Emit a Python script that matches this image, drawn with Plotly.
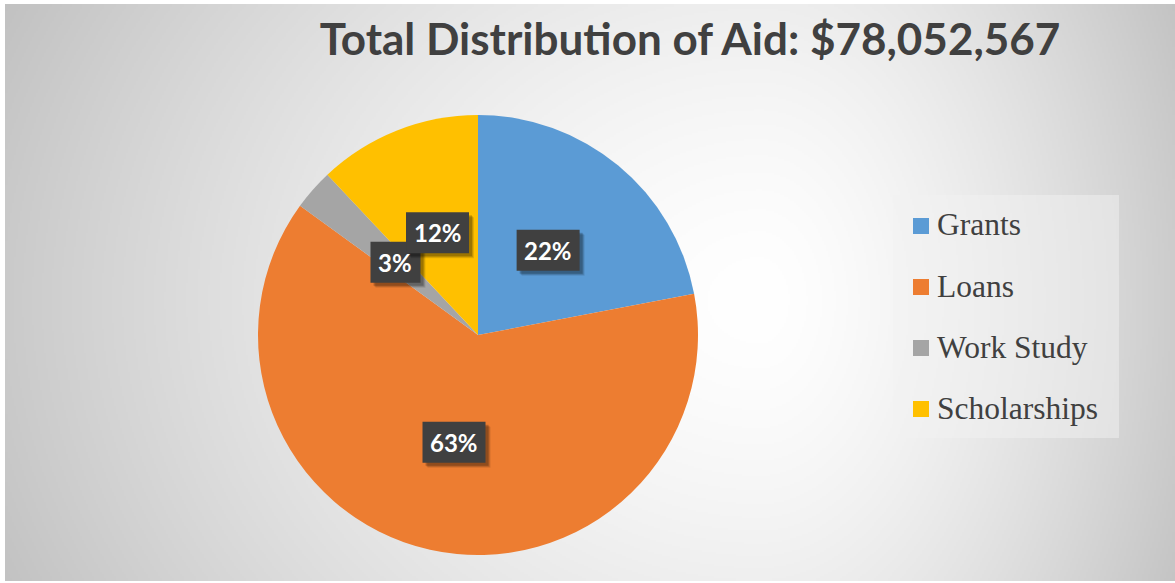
import zlib, struct, base64
import numpy as np
import plotly.graph_objects as go

# ---- data ----
categories = ["Grants", "Loans", "Work Study", "Scholarships"]
percent_values = [22, 63, 3, 12]
total_aid = 78052567
colors = ["#5B9BD5", "#ED7D31", "#A5A5A5", "#FFC000"]

W, H = 1175, 583

# ---- background gradient image (styling only) ----
def png_gray(arr):
    h, w = arr.shape
    raw = b"".join(b"\x00" + arr[i].tobytes() for i in range(h))
    def chunk(t, d):
        c = struct.pack(">I", len(d)) + t + d
        return c + struct.pack(">I", zlib.crc32(t + d) & 0xffffffff)
    return (b"\x89PNG\r\n\x1a\n"
            + chunk(b"IHDR", struct.pack(">IIBBBBB", w, h, 8, 0, 0, 0, 0))
            + chunk(b"IDAT", zlib.compress(raw, 9))
            + chunk(b"IEND", b""))

gw, gh = 585, 289
gx0, gy0, gx1, gy1 = 5, 4, 1175, 581
xs = gx0 + (np.arange(gw) + 0.5) * (gx1 - gx0) / gw
ys = gy0 + (np.arange(gh) + 0.5) * (gy1 - gy0) / gh
X, Y = np.meshgrid(xs, ys)
cxg, cyg = 760.0, 300.0
ax = np.where(X < cxg, 850.0, 480.0)
ay = 700.0
t = np.sqrt(((X - cxg) / ax) ** 2 + ((Y - cyg) / ay) ** 2)
t = np.clip(t, 0, 1) ** 1.5
g = (255 - 63 * t).astype(np.uint8)
bg_uri = "data:image/png;base64," + base64.b64encode(png_gray(g)).decode()

# ---- pie geometry ----
pcx, pcy, R = 478, 335, 220
dom_x = [(pcx - R) / W, (pcx + R) / W]
dom_y = [(H - pcy - R) / H, (H - pcy + R) / H]

fig = go.Figure()
fig.add_trace(go.Pie(
    labels=categories,
    values=percent_values,
    marker=dict(colors=colors, line=dict(width=0)),
    sort=False,
    direction="clockwise",
    rotation=0,
    textinfo="none",
    hoverinfo="label+percent",
    showlegend=False,
    domain=dict(x=dom_x, y=dom_y),
))

shapes = []
annotations = []

# ---- data labels (dark boxes) placed at half radius along each slice's mid-angle ----
total = sum(percent_values)
cum = 0
bh = 41
for cat, v in zip(categories, percent_values):
    mid = (cum + v / 2) / total * 2 * np.pi
    cum += v
    px = pcx + 0.5 * R * np.sin(mid)
    py = pcy - 0.5 * R * np.cos(mid)
    label = f"{round(v / total * 100)}%"
    bw = 13 * len(label) + 24
    # soft drop shadow
    for off, a in ((5, 0.10), (4, 0.15), (3, 0.2)):
        shapes.append(dict(type="rect", xref="paper", yref="paper",
                           x0=(px - bw / 2 + off) / W, x1=(px + bw / 2 + off) / W,
                           y0=1 - (py + bh / 2 + off) / H, y1=1 - (py - bh / 2 + off) / H,
                           fillcolor=f"rgba(0,0,0,{a})", line=dict(width=0)))
    shapes.append(dict(type="rect", xref="paper", yref="paper",
                       x0=(px - bw / 2) / W, x1=(px + bw / 2) / W,
                       y0=1 - (py + bh / 2) / H, y1=1 - (py - bh / 2) / H,
                       fillcolor="#404040", line=dict(width=0)))
    annotations.append(dict(text=f"<b>{label}</b>",
                            x=px / W, y=1 - py / H, xref="paper", yref="paper",
                            xanchor="center", yanchor="middle", showarrow=False,
                            font=dict(family="Lato", size=24, color="white")))

# ---- legend (manual, to match spacing) ----
shapes.insert(0, dict(type="rect", xref="paper", yref="paper",
                      x0=893 / W, x1=1119 / W, y0=1 - 438 / H, y1=1 - 195 / H,
                      fillcolor="rgba(242,242,242,0.5)", line=dict(width=0), layer="below"))
row0, step = 226, 61
for i, (cat, col) in enumerate(zip(categories, colors)):
    yc = row0 + i * step
    shapes.append(dict(type="rect", xref="paper", yref="paper",
                       x0=913 / W, x1=929 / W, y0=1 - (yc + 8) / H, y1=1 - (yc - 8) / H,
                       fillcolor=col, line=dict(width=0)))
    annotations.append(dict(text=cat, x=935 / W, y=1 - (yc - 1) / H, xref="paper", yref="paper",
                            xanchor="left", yanchor="middle", showarrow=False,
                            font=dict(family="Liberation Serif", size=31.5, color="#404040")))

fig.update_layout(
    width=W, height=H,
    margin=dict(l=0, r=0, t=0, b=0),
    paper_bgcolor="white",
    plot_bgcolor="rgba(0,0,0,0)",
    title=dict(text=f"<b>Total Distribution of Aid: ${total_aid:,}</b>",
               x=690 / W, xanchor="center", xref="paper",
               y=1 - 40 / H, yanchor="middle", yref="paper",
               font=dict(family="Lato", size=44, color="#404040")),
    images=[dict(source=bg_uri, xref="paper", yref="paper",
                 x=gx0 / W, y=1 - gy0 / H, sizex=(gx1 - gx0) / W, sizey=(gy1 - gy0) / H,
                 xanchor="left", yanchor="top", sizing="stretch", layer="below")],
    shapes=shapes,
    annotations=annotations,
)

fig.write_html("out.html")
